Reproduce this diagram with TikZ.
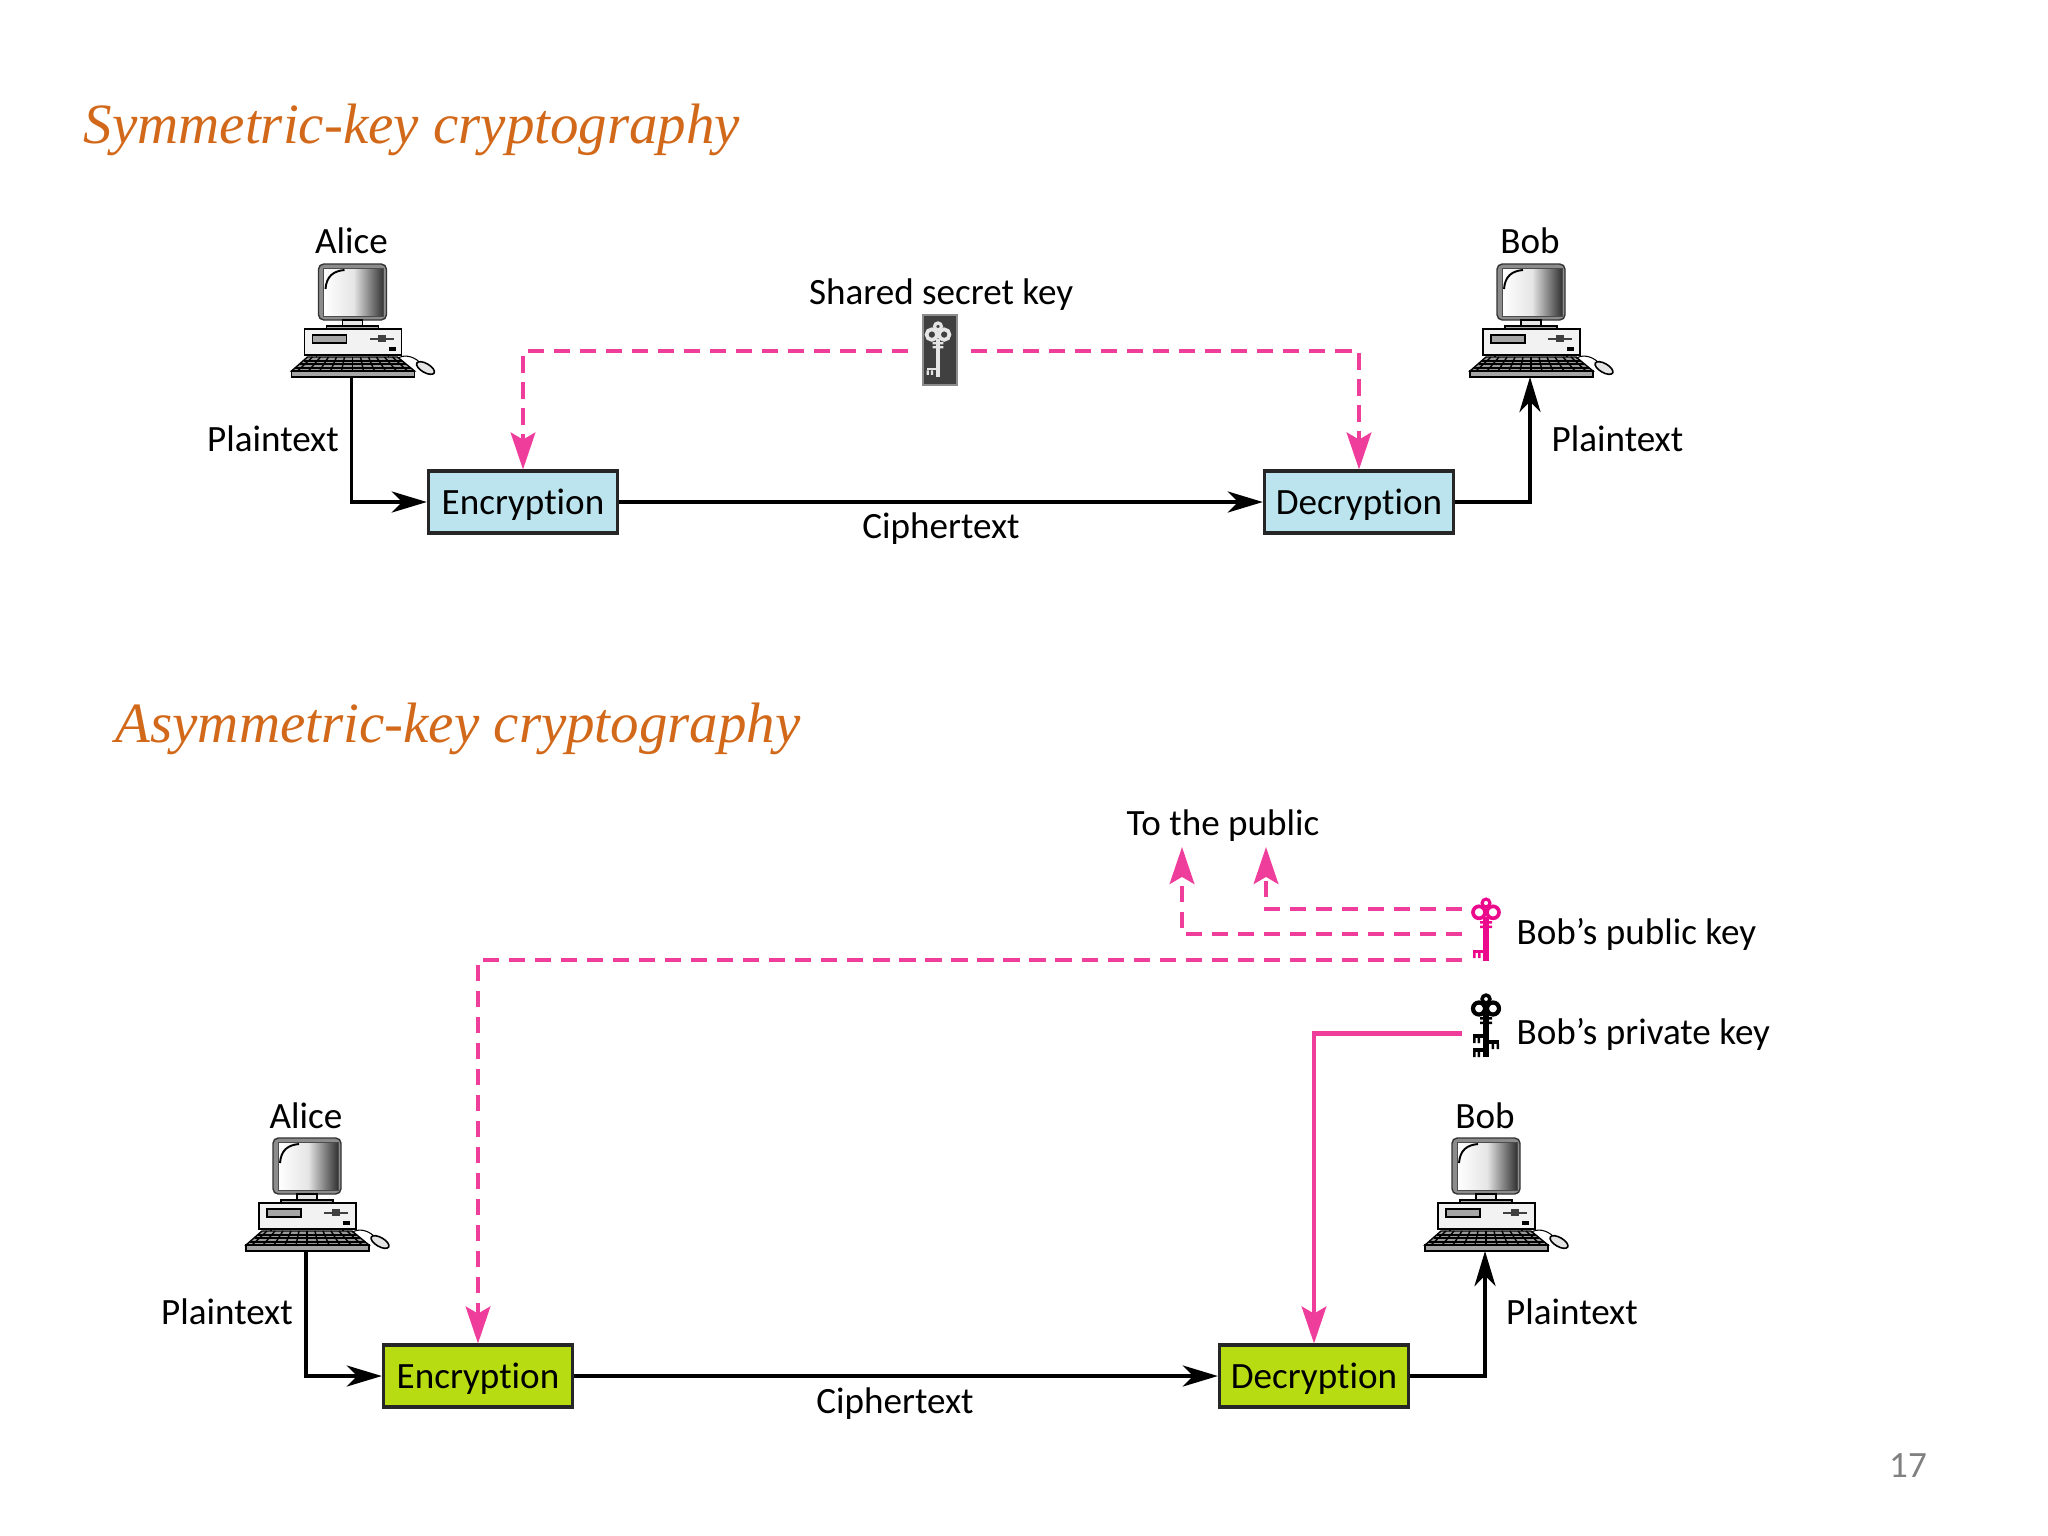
\documentclass[tikz,border=0pt]{standalone}
\usepackage{fontspec}
\setmainfont{Carlito}[Ligatures=NoCommon]
\newfontfamily\titlefont{Liberation Serif}
\usetikzlibrary{arrows.meta}
\definecolor{keypink}{HTML}{EE3D9A}
\definecolor{keymag}{HTML}{EC0A8C}
\definecolor{boxblue}{HTML}{BCE4EE}
\definecolor{boxgreen}{HTML}{B7DC12}
\definecolor{titleorange}{HTML}{D2691A}
\tikzset{
  pics/computer/.style={code={
    \coordinate (-base) at (0,0);
    \draw[black!80,fill=black!45,rounded corners=1.5pt,line width=.4pt] (-33,-113) rectangle (35,-57);
    \shade[left color=white,right color=black!80,middle color=white!90!black] (-28,-109) rectangle (32,-61);
    \draw[black!70,line width=.25pt] (-28,-109) rectangle (32,-61);
    \draw[black,line width=.55pt] (-7,-107) .. controls (-18,-106) and (-25,-101) .. (-26,-88);
    \draw[fill=black!10,line width=.3pt] (-9,-57) rectangle (11,-51);
    \draw[fill=black!30,line width=.4pt] (-25,-51) rectangle (27,-48);
    \draw[fill=black!5,line width=.5pt] (-47,-48) rectangle (50,-22);
    \draw[fill=black!35,line width=.4pt] (-39,-42) rectangle (-5,-34);
    \fill[black!75] (18,-39.5) rectangle (42,-37.5);
    \fill[black!75] (26,-42) rectangle (34,-35);
    \fill[black] (37,-30) rectangle (44,-26);
    \draw[line width=.3pt] (-35,-22) -- (-35,-20) (37,-22) -- (37,-20);
    \draw[fill=black!40,line width=.4pt] (-44,-20) -- (46,-20) -- (63,-6) -- (-60,-6) -- cycle;
    \draw[fill=black!35,line width=.4pt] (-60,-6) rectangle (63,0);
    \foreach \i in {-5,...,5}
      \draw[black,line width=.4pt] (1+\i*8,-20) -- (1+\i*11,-6);
    \foreach \j in {-16,-13,-9}
      \draw[black,line width=.4pt] (-60-\j*1.2-7,\j) -- (63+\j*1.2+7,\j);
    \draw[line width=.3pt] (46,-19) .. controls (52,-22) and (60,-22) .. (68,-15);
    \draw[fill=black!10,rotate around={-30:(74,-9)},line width=.45pt] (74,-9) ellipse (10 and 4.5);
  }},
  pics/keyicon/.style={code={
    \draw[#1,line width=.9pt] (0,5) circle (3.9);
    \draw[#1,line width=1.05pt] (-7,14.3) circle (6) (7,14.3) circle (6);
    \fill[#1] (-2.7,19) rectangle (2.7,63);
    \fill[#1] (-6,23) rectangle (6,25.5) (-6,27.5) rectangle (6,30);
    \fill[#1] (-13,52) rectangle (-2.7,55);
    \fill[#1] (-13,55) rectangle (-10.5,60) (-8,55) rectangle (-5.5,60);
  }},
  pics/privkey/.style={code={
    \draw[black,line width=1pt] (0,5) circle (3.9);
    \draw[black,line width=1.2pt] (-7,14.5) circle (6) (7,14.5) circle (6);
    \fill[black] (-2.8,19) rectangle (2.8,63);
    \fill[black] (-6,23) rectangle (6,25.5) (-6,27.5) rectangle (6,30);
    \foreach \r in {40,54}{
      \fill[black] (-13,\r) rectangle (-2.8,\r+4);
      \fill[black] (-13,\r+4) rectangle (-10.5,\r+9) (-8.5,\r+4) rectangle (-6,\r+9);
    }
    \fill[black] (2.8,46) rectangle (13,50);
    \fill[black] (5.5,50) rectangle (8,55) (10.5,50) rectangle (13,55);
  }},
  lbl/.style={font=\fontsize{10.55}{12}\selectfont,inner sep=0pt,text=black},
  title/.style={font=\titlefont\itshape\fontsize{16.2}{20}\selectfont,text=titleorange,anchor=base west,inner sep=0pt},
  cbox/.style={draw=black!85,line width=.9pt,minimum width=53.8pt,minimum height=17.6pt,inner sep=0pt,text height=8pt,text depth=1pt,font=\fontsize{10.55}{12}\selectfont},
  wire/.style={line width=1pt,black,-{Stealth[length=10pt,width=6pt,inset=3pt]}},
  pinkwire/.style={line width=1.15pt,keypink,-{Stealth[length=10.5pt,width=7pt,inset=2pt]}},
  pinkdash/.style={pinkwire,dash pattern=on 4.6pt off 2.8pt},
}
\begin{document}
\begin{tikzpicture}[x=0.01cm,y=-0.01cm]
\useasboundingbox (0,0) rectangle (2048,1536);

\node[title] (title1) at (83,143) {Symmetric-key cryptography};

\pic (alice1) at (351.5,377) {computer};
\pic (bob1) at (1530,377) {computer};
\node[lbl] (alicelbl1) at (351.5,241) {Alice};
\node[lbl] (boblbl1) at (1530,241) {Bob};
\node[cbox,fill=boxblue] (enc1) at (523,502) {Encryption};
\node[cbox,fill=boxblue] (dec1) at (1359,502) {Decryption};
\node[lbl] (plain1) at (273,439) {Plaintext};
\node[lbl] (plain2) at (1617.5,439) {Plaintext};
\node[lbl] (cipher1) at (941,529) {Ciphertext};
\node[lbl] (shared) at (941,295) {Shared secret key};
\node[draw=black!45,fill=black!75,minimum width=9.7pt,minimum height=19.9pt,inner sep=0pt] (keybox) at (940,350) {};
\pic[scale=.88] (skey) at (938,322) {keyicon=black!10};
\coordinate (keyl) at (908,351);
\coordinate (keyr) at (971,351);

\draw[wire] (alice1-base) |- (enc1);
\draw[wire] (enc1) -- (dec1);
\draw[wire] (dec1) -| (bob1-base);
\draw[pinkdash] (keyl) -| (enc1);
\draw[pinkdash] (keyr) -| (dec1);

\node[title] (title2) at (115,742) {Asymmetric-key cryptography};

\pic (alice2) at (306,1251) {computer};
\pic (bob2) at (1485,1251) {computer};
\node[lbl] (alicelbl2) at (306,1116) {Alice};
\node[lbl] (boblbl2) at (1485,1116) {Bob};
\node[cbox,fill=boxgreen] (enc2) at (478,1376) {Encryption};
\node[cbox,fill=boxgreen] (dec2) at (1314,1376) {Decryption};
\node[lbl] (plain3) at (227,1312) {Plaintext};
\node[lbl] (plain4) at (1572,1312) {Plaintext};
\node[lbl] (cipher2) at (895,1404) {Ciphertext};
\node[lbl] (public) at (1223,826) {To the public};
\node[lbl,anchor=west] (pubkeylbl) at (1516,934) {Bob's public key};
\node[lbl,anchor=west] (privkeylbl) at (1516,1034) {Bob's private key};
\pic (pubkey) at (1486,898) {keyicon=keymag};
\pic (privkey) at (1486,994) {privkey};
\coordinate (pub1) at (1462,909);
\coordinate (pub2) at (1462,934);
\coordinate (pub3) at (1462,960);
\coordinate (priv) at (1462,1033.5);
\coordinate (up1) at (1182,847);
\coordinate (up2) at (1266,847);

\draw[wire] (alice2-base) |- (enc2);
\draw[wire] (enc2) -- (dec2);
\draw[wire] (dec2) -| (bob2-base);
\draw[pinkdash] (pub1) -| (up2);
\draw[pinkdash] (pub2) -| (up1);
\draw[pinkdash] (pub3) -| (enc2);
\draw[pinkwire] (priv) -| (dec2);

\node[lbl,text=black!50] (pageno) at (1908,1466) {17};
\end{tikzpicture}
\end{document}
